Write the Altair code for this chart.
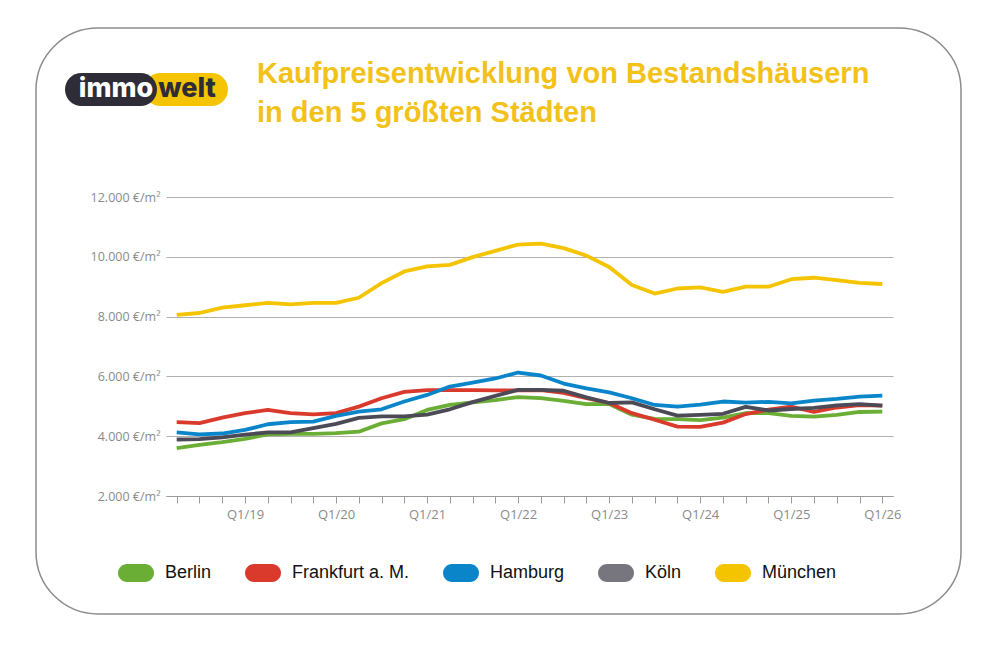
import altair as alt
import pandas as pd

quarters = [
    'Q2/18', 'Q3/18', 'Q4/18',
    'Q1/19', 'Q2/19', 'Q3/19', 'Q4/19',
    'Q1/20', 'Q2/20', 'Q3/20', 'Q4/20',
    'Q1/21', 'Q2/21', 'Q3/21', 'Q4/21',
    'Q1/22', 'Q2/22', 'Q3/22', 'Q4/22',
    'Q1/23', 'Q2/23', 'Q3/23', 'Q4/23',
    'Q1/24', 'Q2/24', 'Q3/24', 'Q4/24',
    'Q1/25', 'Q2/25', 'Q3/25', 'Q4/25',
    'Q1/26']

cities = ['Berlin', 'Frankfurt a. M.', 'Hamburg', 'Köln', 'München']
line_colors = ['#6aae35', '#d93a2b', '#0a85c9', '#4b4a56', '#f5c400']
legend_colors = ['#6aae35', '#d93a2b', '#0a85c9', '#77767e', '#f5c400']

berlin = [3600, 3710, 3800, 3910, 4060, 4075, 4075, 4100, 4150, 4430, 4570, 4880, 5050, 5130, 5210, 5310,
          5270, 5180, 5070, 5080, 4720, 4580, 4570, 4540, 4620, 4770, 4770, 4680, 4655, 4710, 4810, 4820]
frankfurt = [4470, 4440, 4620, 4770, 4880, 4770, 4730, 4770, 4990, 5270, 5480, 5540, 5540, 5540, 5530, 5530,
             5540, 5450, 5270, 5110, 4770, 4550, 4320, 4310, 4455, 4740, 4890, 4990, 4810, 4960, 5040, 5020]
hamburg = [4130, 4060, 4090, 4210, 4400, 4470, 4490, 4680, 4820, 4900, 5160, 5380, 5660, 5795, 5930, 6130,
           6030, 5760, 5600, 5465, 5270, 5045, 4990, 5055, 5160, 5125, 5150, 5100, 5190, 5245, 5325, 5355]
koeln = [3890, 3900, 3960, 4050, 4130, 4130, 4270, 4410, 4610, 4660, 4660, 4720, 4900, 5140, 5350, 5550,
         5550, 5520, 5300, 5110, 5130, 4900, 4690, 4715, 4750, 4980, 4860, 4910, 4945, 5030, 5075, 5020]
muenchen = [8060, 8120, 8300, 8380, 8460, 8410, 8460, 8460, 8630, 9120, 9510, 9680, 9730, 9990, 10200, 10410,
            10440, 10290, 10040, 9660, 9060, 8770, 8940, 8975, 8830, 9000, 9000, 9250, 9300, 9220, 9130, 9090]

y_ticks = [2000, 4000, 6000, 8000, 10000, 12000]

series = [berlin, frankfurt, hamburg, koeln, muenchen]
rows = []
for city, values in zip(cities, series):
    for q, v in zip(quarters, values):
        rows.append({'Quartal': q, 'Stadt': city, 'Preis': v})
df = pd.DataFrame(rows)

one = pd.DataFrame({'a': [0]})

# pill-shaped legend symbol (2:1)
pill = 'M-0.5,-0.5H0.5A0.5,0.5 0 0 1 0.5,0.5H-0.5A0.5,0.5 0 0 1 -0.5,-0.5Z'

x_enc = alt.X('Quartal:O', sort=quarters, title=None,
              scale=alt.Scale(type='point', padding=0.47),
              axis=alt.Axis(labelAngle=0, labelExpr="indexof(datum.label, 'Q1') == 0 ? datum.label : ''",
                            labelFont='Open Sans', labelFontSize=13, labelColor='#8a8a8a',
                            labelPadding=5, tickSize=7, tickColor='#9a9a9a', domainColor='#9a9a9a',
                            domainWidth=1.2, grid=False))
y_enc = alt.Y('Preis:Q', title=None,
              scale=alt.Scale(domain=[2000, 12000], nice=False, zero=False),
              axis=alt.Axis(values=y_ticks, domain=False, ticks=False, labelPadding=6,
                            labelExpr="replace(format(datum.value, ','), ',', '.') + ' €/m²'",
                            labelFont='Open Sans', labelFontSize=12.5, labelColor='#8a8a8a',
                            gridColor='#b0b0b0', gridWidth=1.2))

# zero-size points carry the legend (pill symbols in the lighter legend colours)
legend_points = alt.Chart(df).mark_point(filled=True, size=0, opacity=1).encode(
    x=x_enc, y=y_enc,
    color=alt.Color('Stadt:N', title=None,
                    scale=alt.Scale(domain=cities, range=legend_colors),
                    legend=alt.Legend(orient='none', legendX=-48, legendY=358, direction='horizontal',
                                      symbolType=pill, symbolSize=1296, symbolStrokeWidth=0,
                                      labelFont='Liberation Sans', labelFontSize=18, labelColor='#111111',
                                      labelOffset=11, columnPadding=33)),
)

lines = alt.Chart(df).mark_line(strokeWidth=3.8, strokeJoin='round').encode(
    x=x_enc, y=y_enc,
    stroke=alt.Stroke('Stadt:N', scale=alt.Scale(domain=cities, range=line_colors), legend=None),
)

frame = alt.Chart(one).mark_rect(cornerRadius=62, fillOpacity=0, stroke='#8c8c8c', strokeWidth=1.5).encode(
    x=alt.value(-130), x2=alt.value(795), y=alt.value(-169), y2=alt.value(417))

logo_yellow = alt.Chart(one).mark_rect(cornerRadius=16.5, color='#f5c400').encode(
    x=alt.value(-22), x2=alt.value(62), y=alt.value(-124), y2=alt.value(-91))
logo_dark = alt.Chart(one).mark_rect(cornerRadius=16.5, color='#2d2c37').encode(
    x=alt.value(-101), x2=alt.value(-9), y=alt.value(-124), y2=alt.value(-91))
logo_immo = alt.Chart(one).mark_text(text='immo', font='Inter', fontWeight=800, fontSize=27,
                                     color='white', baseline='middle').encode(
    x=alt.value(-50), y=alt.value(-108))
logo_welt = alt.Chart(one).mark_text(text='welt', font='Inter', fontWeight=800, fontSize=27,
                                     color='#2d2c37', baseline='middle').encode(
    x=alt.value(21), y=alt.value(-108))

title1 = alt.Chart(one).mark_text(text='Kaufpreisentwicklung von Bestandshäusern', font='Liberation Sans',
                                  fontWeight='bold', fontSize=29, color='#f2c21a', align='left',
                                  baseline='alphabetic').encode(
    x=alt.value(91), y=alt.value(-114))
title2 = alt.Chart(one).mark_text(text='in den 5 größten Städten', font='Liberation Sans',
                                  fontWeight='bold', fontSize=29, color='#f2c21a', align='left',
                                  baseline='alphabetic').encode(
    x=alt.value(91), y=alt.value(-75))

chart = alt.layer(legend_points, frame, lines, logo_yellow, logo_dark, logo_immo, logo_welt,
                  title1, title2).properties(
    width=727, height=299,
    autosize=alt.AutoSizeParams(type='none'),
    padding={'left': 158, 'top': 189, 'right': 80, 'bottom': 140},
    background='white',
).configure_view(stroke=None)

chart.save('out.html', embed_options={'renderer': 'svg', 'actions': False})
